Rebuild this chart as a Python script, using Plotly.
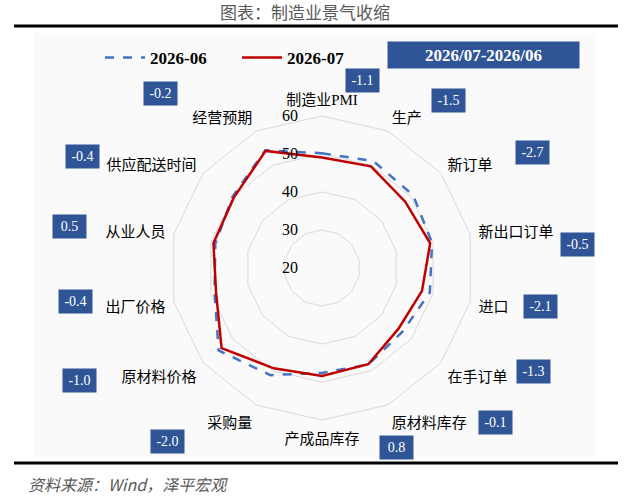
import plotly.graph_objects as go

# 指标名称（顺时针，从顶部开始）
categories = ["制造业PMI", "生产", "新订单", "新出口订单", "进口", "在手订单", "原材料库存",
              "产成品库存", "采购量", "原材料价格", "出厂价格", "从业人员", "供应配送时间", "经营预期"]
pmi_2026_06 = [50.2, 51.2, 50.7, 49.7, 49.1, 47.0, 48.2, 47.6, 51.3, 54.8, 49.0, 48.8, 50.1, 54.4]
pmi_2026_07 = [49.1, 49.7, 48.0, 49.2, 47.0, 45.7, 48.1, 48.4, 49.3, 53.8, 48.6, 49.3, 49.7, 54.2]
# 2026/07-2026/06 差值
diff_labels = ["-1.1", "-1.5", "-2.7", "-0.5", "-2.1", "-1.3", "-0.1",
               "0.8", "-2.0", "-1.0", "-0.4", "0.5", "-0.4", "-0.2"]
radial_ticks = [20, 30, 40, 50, 60]

W, H = 624, 498
SERIF = "Times New Roman, Liberation Serif, Noto Sans CJK SC"
BOX_BLUE = "#2F5597"

fig = go.Figure()

# 闭合曲线
fig.add_trace(go.Scatterpolar(
    r=pmi_2026_06 + pmi_2026_06[:1],
    theta=categories + categories[:1],
    mode="lines",
    name="2026-06",
    line=dict(color="#4472C4", width=2.5, dash="dash"),
))
fig.add_trace(go.Scatterpolar(
    r=pmi_2026_07 + pmi_2026_07[:1],
    theta=categories + categories[:1],
    mode="lines",
    name="2026-07",
    line=dict(color="#C00000", width=2.5),
))

# 极坐标区域：中心约 (322,268)，外圈半径约 152px
cx, cy, rad = 322, 268, 152
fig.update_layout(
    width=W, height=H,
    margin=dict(l=0, r=0, t=0, b=0),
    paper_bgcolor="white",
    polar=dict(
        domain=dict(x=[(cx - rad) / W, (cx + rad) / W],
                    y=[(H - cy - rad) / H, (H - cy + rad) / H]),
        gridshape="linear",
        bgcolor="rgba(0,0,0,0)",
        radialaxis=dict(
            range=[20, 60], tickvals=radial_ticks, angle=90, side="counterclockwise",
            showline=False, gridcolor="#d9d9d9", gridwidth=1,
            # 透明刻度线，把标签推到轴线左侧
            ticks="outside", ticklen=18, tickcolor="rgba(0,0,0,0)",
            tickfont=dict(family=SERIF, size=16, color="black"), tickangle=90,
        ),
        angularaxis=dict(
            direction="clockwise", rotation=90, showgrid=False,
            showline=True, linecolor="#d9d9d9", linewidth=1,
            ticks="outside", ticklen=5, tickcolor="rgba(0,0,0,0)",
            tickfont=dict(family=SERIF, size=15, color="black"),
        ),
    ),
    legend=dict(
        orientation="h", x=100 / W, y=1 - 58 / H, xanchor="left", yanchor="middle",
        font=dict(family=SERIF, size=17, color="black", weight="bold"),
        bgcolor="rgba(0,0,0,0)", itemwidth=40,
        entrywidth=82, entrywidthmode="pixels",
    ),
    showlegend=True,
)

# 浅灰色绘图区背景
fig.add_shape(type="rect", xref="paper", yref="paper", layer="below",
              x0=34 / W, x1=596 / W, y0=1 - 458 / H, y1=1 - 33 / H,
              fillcolor="#fafafa", line=dict(width=0))

# 差值标签位置（像素）
box_pos = [(362, 80), (448, 100), (532, 152), (577, 244), (540, 306), (533, 371), (495, 422),
           (396, 447), (167, 441), (79, 380), (75, 301), (69, 226), (82, 157), (160, 93)]
for txt, (px, py) in zip(diff_labels, box_pos):
    fig.add_annotation(
        x=px / W, y=1 - py / H, xref="paper", yref="paper", xanchor="center", yanchor="middle",
        text=txt, showarrow=False, width=31, height=21, bgcolor=BOX_BLUE, borderpad=1,
        font=dict(family=SERIF, size=14, color="white"),
    )

fig.add_annotation(
    x=483 / W, y=1 - 55 / H, xref="paper", yref="paper", xanchor="center", yanchor="middle",
    text="<b>2026/07-2026/06</b>", showarrow=False, width=187, height=22,
    bgcolor=BOX_BLUE, borderpad=2, font=dict(family=SERIF, size=17, color="white"),
)

# 标题和来源
fig.add_annotation(
    x=305 / W, y=1 - 12 / H, xref="paper", yref="paper", xanchor="center", yanchor="middle",
    text="图表：制造业景气收缩", showarrow=False,
    font=dict(family="Noto Sans CJK SC", size=17, color="#595959"),
)
fig.add_annotation(
    x=26 / W, y=1 - 484 / H, xref="paper", yref="paper", xanchor="left", yanchor="middle",
    text="<i>资料来源：Wind，泽平宏观</i>", showarrow=False,
    font=dict(family="Noto Sans CJK SC", size=16, color="#595959"),
)
fig.add_shape(type="line", xref="paper", yref="paper", x0=14 / W, x1=618 / W,
              y0=1 - 26 / H, y1=1 - 26 / H, line=dict(color="black", width=3))
fig.add_shape(type="line", xref="paper", yref="paper", x0=14 / W, x1=618 / W,
              y0=1 - 463 / H, y1=1 - 463 / H, line=dict(color="black", width=3))

fig.write_html("out.html", config={"displayModeBar": False},
               post_script="document.body.style.margin='0';")
